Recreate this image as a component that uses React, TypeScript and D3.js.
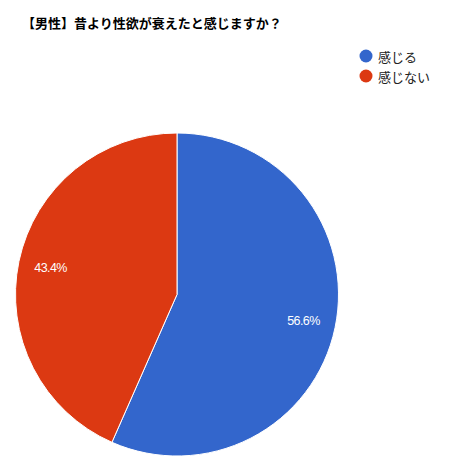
import React from "react";
import * as d3 from "d3";

const title = "【男性】昔より性欲が衰えたと感じますか？";
const categories = ["感じる", "感じない"];
const values = [56.6, 43.4];
const colors = ["#3366cc", "#dc3912"];

const W = 473;
const H = 475;
const cx = 177;
const cy = 294.5;
const R = 161.5;

export default function App() {
  const pie = d3.pie<number>().sort(null).value((d) => d);
  const arcs = pie(values);
  const arc = d3.arc<d3.PieArcDatum<number>>().innerRadius(0).outerRadius(R);
  const labelArc = d3.arc<d3.PieArcDatum<number>>().innerRadius(R * 0.8).outerRadius(R * 0.8);
  const legendY = d3.scaleLinear().domain([0, 1]).range([56, 76]);
  const total = d3.sum(values);

  return (
    <svg
      width={W}
      height={H}
      style={{ position: "fixed", left: 0, top: 0, background: "#fff" }}
    >
      <rect width={W} height={H} fill="#fff" />
      <text
        x={22}
        y={28}
        fontFamily="'Noto Sans CJK JP', sans-serif"
        fontWeight="bold"
        fontSize={13}
        fill="#000"
      >
        {title}
      </text>
      <g transform={`translate(${cx},${cy})`}>
        {arcs.map((a, i) => (
          <path key={i} d={arc(a) || ""} fill={colors[i]} stroke="#fff" strokeWidth={1} />
        ))}
        {arcs.map((a, i) => {
          const [x, y] = labelArc.centroid(a);
          return (
            <text
              key={"l" + i}
              x={x}
              y={y}
              textAnchor="middle"
              dominantBaseline="central"
              fontFamily="Arial, 'Liberation Sans', sans-serif"
              fontSize={12.5}
              letterSpacing={-0.6}
              fill="#fff"
            >
              {((values[i] / total) * 100).toFixed(1)}%
            </text>
          );
        })}
      </g>
      {categories.map((c, i) => (
        <g key={c}>
          <circle cx={366} cy={legendY(i)} r={6.5} fill={colors[i]} />
          <text
            x={378}
            y={legendY(i)}
            dominantBaseline="central"
            fontFamily="'Noto Sans CJK JP', sans-serif"
            fontSize={13}
            fill="#222"
          >
            {c}
          </text>
        </g>
      ))}
    </svg>
  );
}
